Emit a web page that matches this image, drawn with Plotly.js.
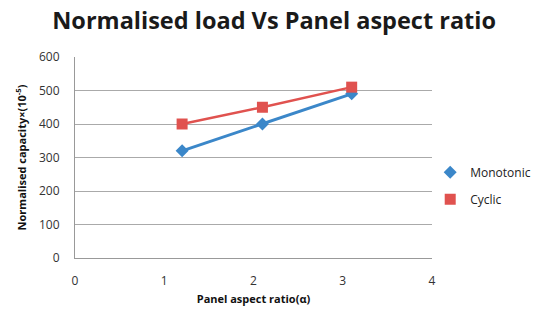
<!DOCTYPE html>
<html>
<head>
<meta charset="utf-8">
<script src="https://cdn.plot.ly/plotly-3.0.1.min.js"></script>
<style>html,body{margin:0;padding:0;background:#fff;}#chart{width:545px;height:312px;}</style>
</head>
<body>
<div id="chart"></div>
<script>
const aspectRatio = [1.2, 2.1, 3.1];
const monotonic = [320, 400, 490];
const cyclic = [400, 450, 510];
const seriesNames = ["Monotonic", "Cyclic"];
const xTicks = [0, 1, 2, 3, 4];
const yTicks = [0, 100, 200, 300, 400, 500, 600];

const font = "Open Sans, Noto Sans, sans-serif";
const blue = "#3b87c9", red = "#e0524f";
const data = [
  {x: aspectRatio, y: monotonic, type: "scatter", mode: "lines", showlegend: false,
   line: {color: blue, width: 3}},
  {x: aspectRatio, y: cyclic, type: "scatter", mode: "lines", showlegend: false,
   line: {color: red, width: 2.5}},
  {x: aspectRatio, y: monotonic, name: seriesNames[0], legendgroup: "a", type: "scatter", mode: "markers",
   marker: {symbol: "diamond", size: 10, color: blue}},
  {x: aspectRatio, y: cyclic, name: seriesNames[1], legendgroup: "b", type: "scatter", mode: "markers",
   marker: {symbol: "square", size: 11, color: red}}
];
const layout = {
  width: 545, height: 312,
  margin: {l: 75, r: 113, t: 57, b: 54, autoexpand: false},
  paper_bgcolor: "#fff", plot_bgcolor: "#fff",
  font: {family: font, color: "#333", size: 11},
  title: {text: "<b>Normalised load Vs Panel aspect ratio</b>", x: 0.503, xref: "container", xanchor: "center",
    y: 0.935, yref: "container", yanchor: "middle",
    font: {family: font, size: 23.5, color: "#1a1a1a"}},
  xaxis: {range: [0, 4], tickvals: xTicks, showgrid: false, zeroline: false,
    showline: true, linecolor: "#999", linewidth: 1, ticks: "outside", ticklen: 12, tickcolor: "rgba(0,0,0,0)",
    tickfont: {size: 12, color: "#333"},
    title: {text: "<b>Panel aspect ratio(α)</b>", font: {size: 11, color: "#111"}, standoff: 6}},
  yaxis: {range: [0, 600], tickvals: yTicks, showgrid: true, gridcolor: "#aaa", gridwidth: 1,
    zeroline: false, showline: true, linecolor: "#999", linewidth: 1, ticks: "outside", ticklen: 12,
    tickcolor: "rgba(0,0,0,0)",
    tickfont: {size: 12, color: "#333"},
    title: {text: "<b>Normalised capacity×(10<sup>-5</sup>)</b>", font: {size: 11, color: "#111"}, standoff: 10}},
  legend: {x: 0.995, y: 0.36, xanchor: "left", yanchor: "middle", font: {size: 12, color: "#222"},
    traceorder: "grouped", tracegroupgap: 8, itemwidth: 30, bgcolor: "rgba(0,0,0,0)"},
  showlegend: true
};
Plotly.newPlot("chart", data, layout, {displayModeBar: false, staticPlot: true});
</script>
</body>
</html>
